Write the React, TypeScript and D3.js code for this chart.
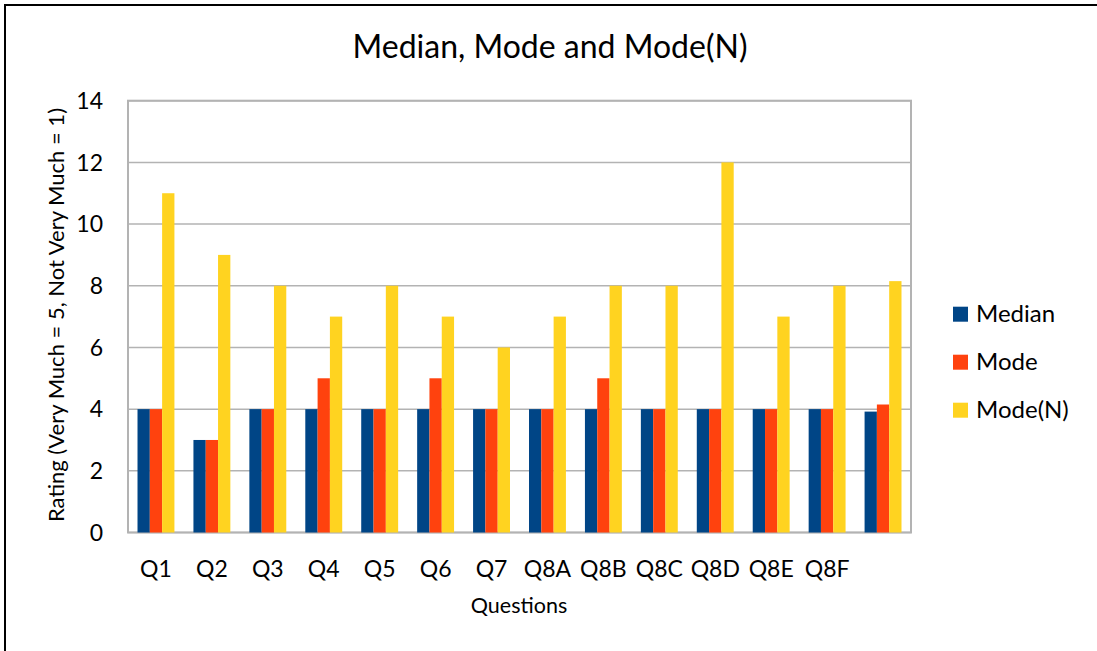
import { useRef, useEffect } from 'react';
import * as d3 from 'd3';

const categories = ['Q1', 'Q2', 'Q3', 'Q4', 'Q5', 'Q6', 'Q7', 'Q8A', 'Q8B', 'Q8C', 'Q8D', 'Q8E', 'Q8F', ''];
const median = [4, 3, 4, 4, 4, 4, 4, 4, 4, 4, 4, 4, 4, 3.92];
const mode = [4, 3, 4, 5, 4, 5, 4, 4, 5, 4, 4, 4, 4, 4.15];
const modeN = [11, 9, 8, 7, 8, 7, 6, 7, 8, 8, 12, 7, 8, 8.15];
const seriesNames = ['Median', 'Mode', 'Mode(N)'];
const colors = ['#004586', '#ff420e', '#ffd320'];
const yTicks = [0, 2, 4, 6, 8, 10, 12, 14];

const FONT = 'Lato, "Open Sans", sans-serif';

const App = () => {
  const ref = useRef<SVGSVGElement>(null);

  useEffect(() => {
    const svg = d3.select(ref.current);
    svg.selectAll('*').remove();

    const left = 128, right = 911, top = 100.7, bottom = 532.5;

    // outer frame (only top and left visible in the window)
    svg.append('rect')
      .attr('x', 5).attr('y', 5)
      .attr('width', 1200).attr('height', 800)
      .attr('fill', 'none').attr('stroke', '#000').attr('stroke-width', 2);

    const x0 = d3.scaleBand<number>()
      .domain(categories.map((_, i) => i))
      .range([left, right])
      .paddingInner(0.34)
      .paddingOuter(0.17);

    const x1 = d3.scaleBand<number>()
      .domain([0, 1, 2])
      .range([0, x0.bandwidth()]);

    const y = d3.scaleLinear().domain([0, 14]).range([bottom, top]);

    // grid
    svg.append('g')
      .selectAll('line')
      .data(yTicks)
      .enter().append('line')
      .attr('x1', left).attr('x2', right)
      .attr('y1', d => y(d)).attr('y2', d => y(d))
      .attr('stroke', '#b3b3b3').attr('stroke-width', 1.5);

    // plot frame
    svg.append('rect')
      .attr('x', left).attr('y', top)
      .attr('width', right - left).attr('height', bottom - top)
      .attr('fill', 'none').attr('stroke', '#b3b3b3').attr('stroke-width', 2);

    const series = [median, mode, modeN];
    const groups = svg.append('g')
      .selectAll('g')
      .data(categories.map((_, i) => i))
      .enter().append('g')
      .attr('transform', i => `translate(${x0(i)},0)`);

    groups.selectAll('rect')
      .data(i => series.map((s, k) => ({ k, v: s[i] })))
      .enter().append('rect')
      .attr('x', d => x1(d.k)!)
      .attr('width', x1.bandwidth())
      .attr('y', d => y(d.v))
      .attr('height', d => y(0) - y(d.v))
      .attr('fill', d => colors[d.k]);

    // y tick labels
    svg.append('g')
      .selectAll('text')
      .data(yTicks)
      .enter().append('text')
      .attr('x', 103)
      .attr('y', d => y(d) + 8.3)
      .attr('text-anchor', 'end')
      .attr('font-family', FONT).attr('font-size', 23)
      .text(d => d);

    // x tick labels
    svg.append('g')
      .selectAll('text')
      .data(categories.map((c, i) => ({ c, i })))
      .enter().append('text')
      .attr('x', d => x0(d.i)! + x0.bandwidth() / 2)
      .attr('y', 576.5)
      .attr('text-anchor', 'middle')
      .attr('font-family', FONT).attr('font-size', 23)
      .text(d => d.c);

    // title
    svg.append('text')
      .attr('x', 550).attr('y', 58)
      .attr('text-anchor', 'middle')
      .attr('font-family', FONT).attr('font-size', 32)
      .text('Median, Mode and Mode(N)');

    // axis titles
    svg.append('text')
      .attr('x', 519).attr('y', 613)
      .attr('text-anchor', 'middle')
      .attr('font-family', FONT).attr('font-size', 21.5)
      .text('Questions');

    svg.append('text')
      .attr('transform', 'translate(64,315) rotate(-90)')
      .attr('text-anchor', 'middle')
      .attr('font-family', FONT).attr('font-size', 22)
      .text('Rating (Very Much = 5, Not Very Much = 1)');

    // legend
    const legend = svg.append('g')
      .selectAll('g')
      .data(seriesNames)
      .enter().append('g')
      .attr('transform', (_, i) => `translate(953,${321.7 + i * 48})`);

    legend.append('rect')
      .attr('x', 0).attr('y', -15)
      .attr('width', 15).attr('height', 15)
      .attr('fill', (_, i) => colors[i]);

    legend.append('text')
      .attr('x', 23).attr('y', 0)
      .attr('font-family', FONT).attr('font-size', 24)
      .text(d => d);
  }, []);

  return (
    <svg
      ref={ref}
      width={1097}
      height={651}
      style={{ position: 'absolute', left: 0, top: 0, background: '#fff' }}
    ></svg>
  );
};

export default App;
